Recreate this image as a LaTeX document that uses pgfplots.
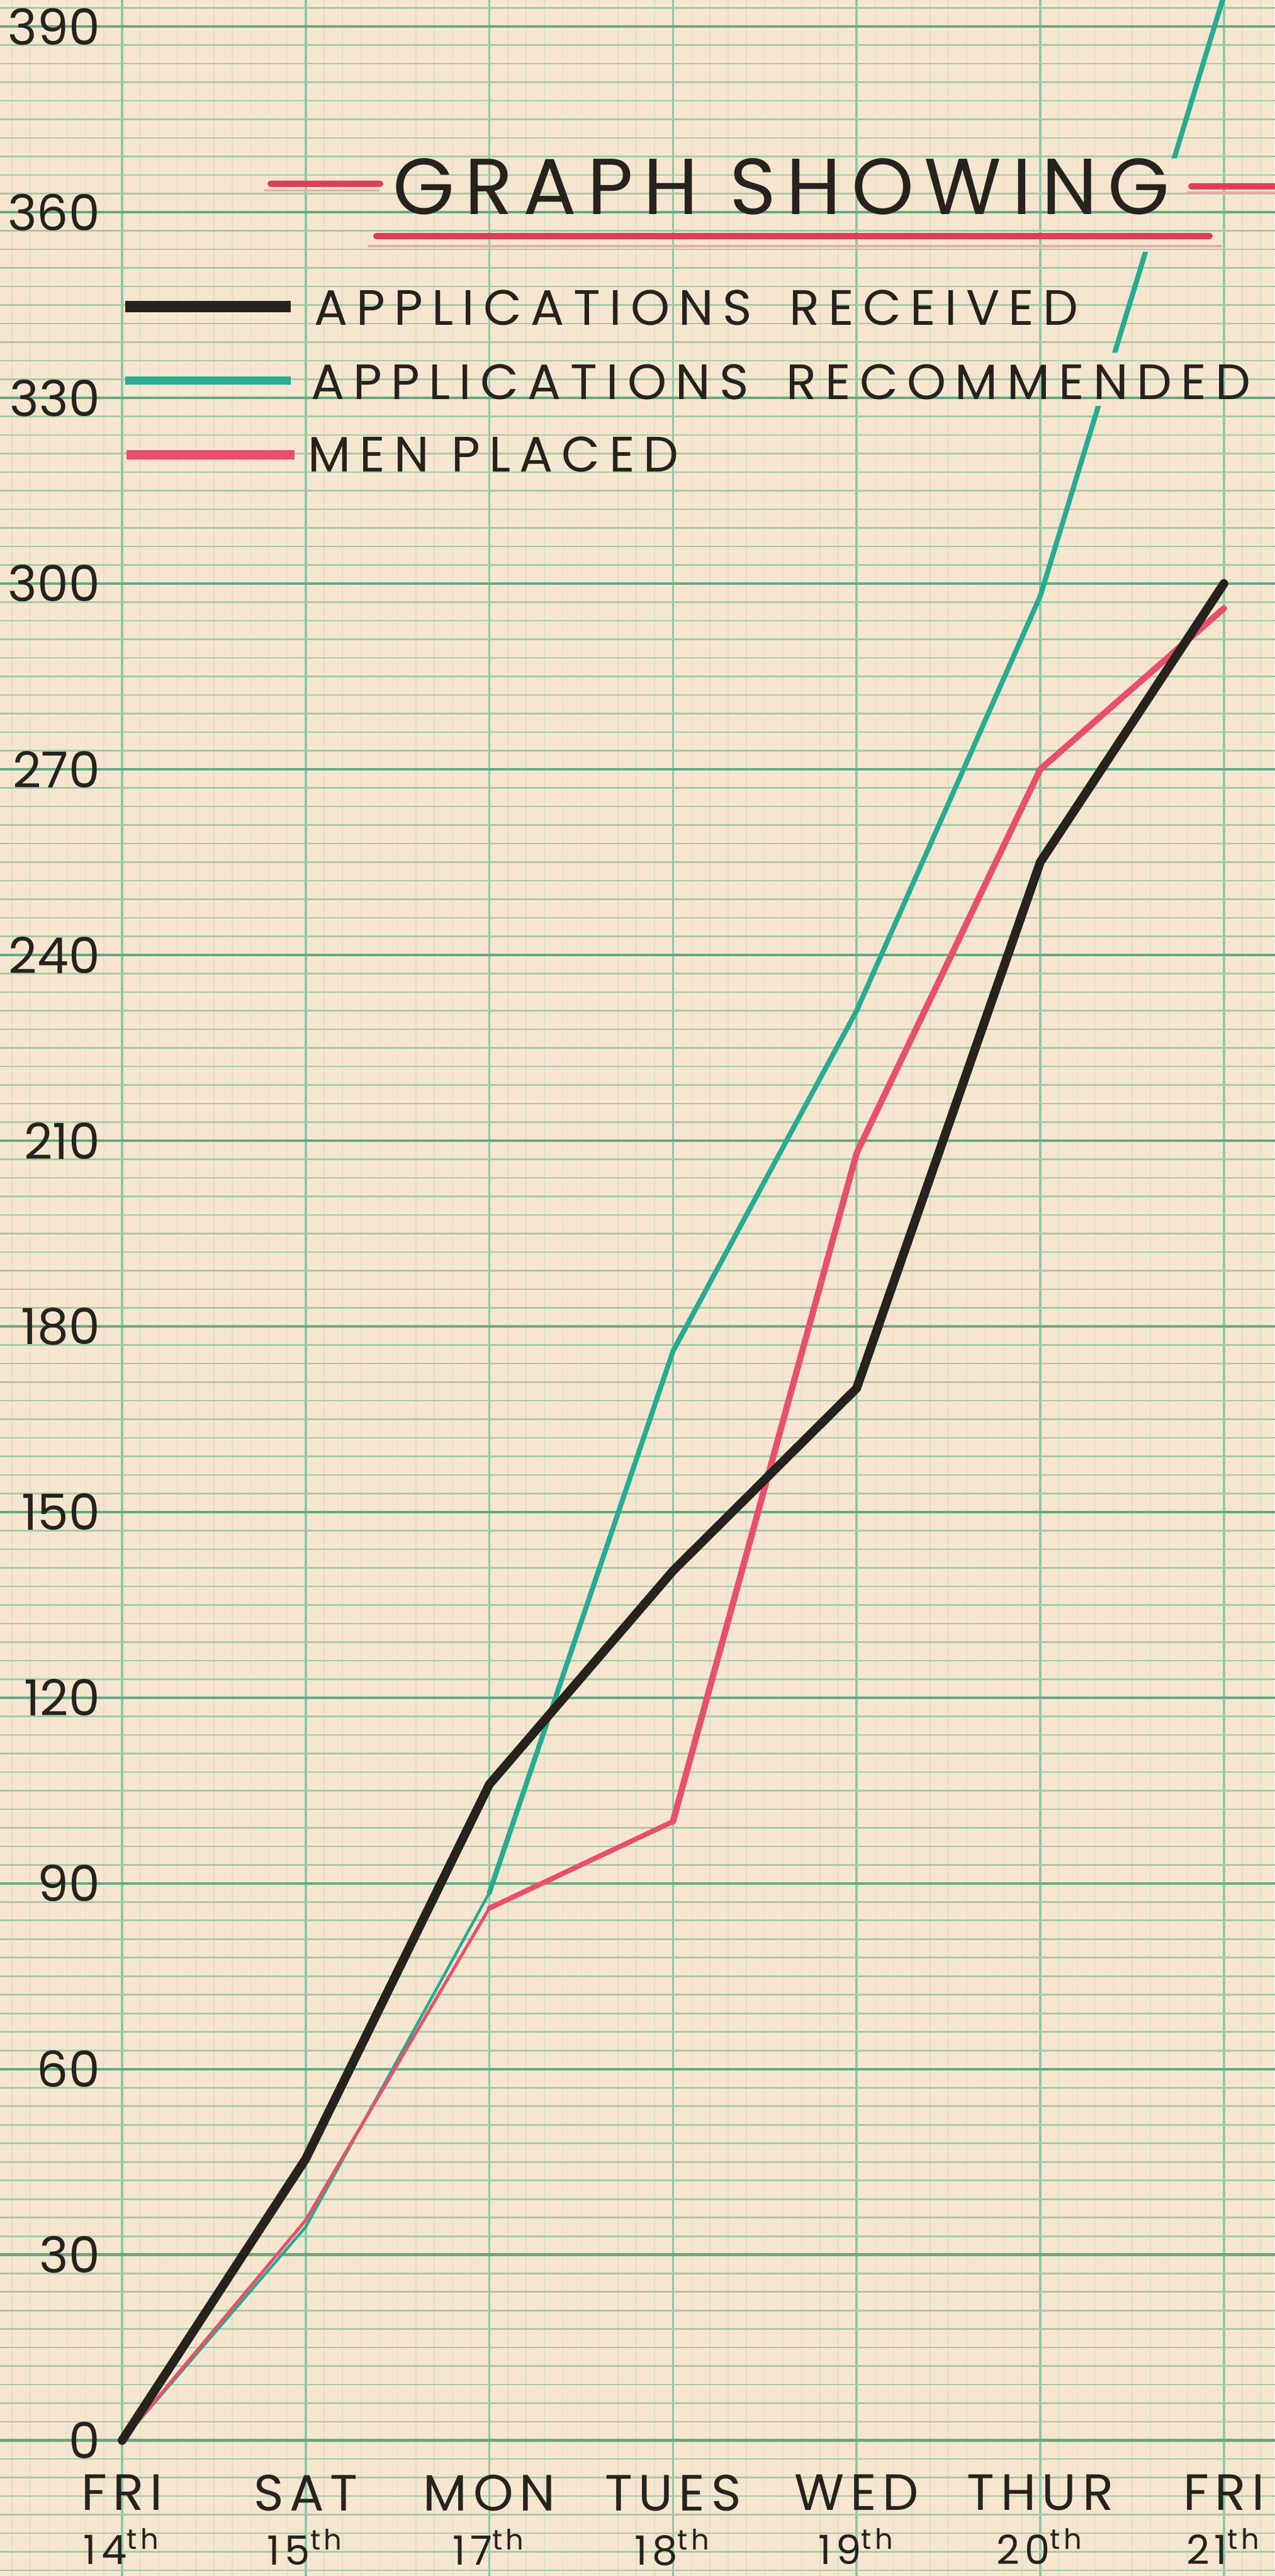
\documentclass[border=0pt]{standalone}
\usepackage{fontspec}
\setmainfont{Poppins}
\newfontfamily\decofont{Poppins}[LetterSpace=18]
\newfontfamily\dayfont{Poppins}[LetterSpace=12]
\newfontfamily\titlefont{Poppins}[LetterSpace=13]
\usepackage{pgfplots}
\pgfplotsset{compat=1.18}

% one pixel of the 2025x4092 reference
\newlength{\px}\setlength{\px}{0.15pt}
\newcommand{\datefont}{\fontsize{64\px}{86\px}\selectfont}

\definecolor{paper}{RGB}{246,230,208}
\definecolor{hmajor}{RGB}{100,170,132}
\definecolor{hminor}{RGB}{168,202,166}
\definecolor{vmajor}{RGB}{140,202,168}
\definecolor{vminor}{RGB}{222,223,198}
\definecolor{inkblack}{RGB}{38,34,30}
\definecolor{inkteal}{RGB}{38,172,146}
\definecolor{inkred}{RGB}{232,80,106}
\definecolor{crimson}{RGB}{222,62,86}
\definecolor{palepink}{RGB}{240,168,170}

\begin{document}
\begin{tikzpicture}
\begin{axis}[
    scale only axis,
    width=2025\px, height=4092\px,
    xmin=-0.665, xmax=6.275,
    ymin=-21.9, ymax=394.3,
    axis background/.style={fill=paper},
    axis line style={draw=none},
    major tick length=0pt, minor tick length=0pt,
    xtick={0,...,6},
    minor xtick={-0.6,-0.5,...,6.25},
    ytick={0,30,...,390},
    minor ytick={-21,-18,...,393},
    grid=both,
    major x grid style={draw=vmajor, line width=3.5\px},
    minor x grid style={draw=vminor, line width=1.5\px},
    major y grid style={draw=hmajor, line width=4.5\px},
    minor y grid style={draw=hminor, line width=2.6\px},
    yticklabels={0,30,60,90,120,150,180,210,240,270,300,330,360,390},
    yticklabel style={font=\fontsize{79\px}{82\px}\selectfont, text=inkblack,
        anchor=east, inner sep=0pt, xshift=160\px},
    xticklabels={{FRI\\{\datefont 14\textsuperscript{th}}},{SAT\\{\datefont 15\textsuperscript{th}}},
        {MON\\{\datefont 17\textsuperscript{th}}},{TUES\\{\datefont 18\textsuperscript{th}}},
        {WED\\{\datefont 19\textsuperscript{th}}},{THUR\\{\datefont 20\textsuperscript{th}}},
        {FRI\\{\datefont 21\textsuperscript{th}}}},
    xticklabel style={font=\dayfont\fontsize{81\px}{86\px}\selectfont, text=inkblack,
        align=center, anchor=north, inner sep=0pt, yshift=162\px},
    line join=round, line cap=round,
]
% applications recommended (broken where it runs through the title and key)
\begin{scope}
  \clip (axis cs:-1,-30) rectangle (axis cs:7,328.7)
        (axis cs:-1,337.3) rectangle (axis cs:7,353.6)
        (axis cs:-1,368.7) rectangle (axis cs:7,400);
  \addplot[inkteal, line width=4.5\px] coordinates {(0,0) (1,34.5) (2,88.5)};
  \addplot[inkteal, line width=8\px] coordinates {(2,88.5) (3,176) (4,231) (5,298) (6,395)};
\end{scope}
% men placed
\addplot[inkred, line width=5\px] coordinates {(0,0) (1,35.6) (2,86)};
\addplot[inkred, line width=8\px] coordinates {(2,86) (3,100)};
\addplot[inkred, line width=10\px] coordinates {(3,100) (4,208) (5,270) (6,296)};
% applications received
\addplot[inkblack, line width=14\px] coordinates {(0,0) (1,45.5) (2,106) (3,140.5) (4,170) (5,255) (6,300)};
\end{axis}

% title and key, placed in reference pixels from the top left corner
\begin{scope}[shift={(current axis.north west)}, x=0.15pt, y=-0.15pt, line cap=round]
  \draw[palepink, line width=3\px] (420,303) -- (602,303);
  \draw[crimson, line width=10\px] (430,292) -- (604,292);
  \draw[palepink, line width=3\px] (1886,306) -- (2040,306);
  \draw[crimson, line width=10\px] (1893,296) -- (2040,296);
  \node[anchor=base west, inner sep=0pt, text=inkblack,
        font=\titlefont\fontsize{126\px}{130\px}\selectfont] at (623,341) {GRAPH SHOWING};
  \draw[palepink, line width=4\px] (586,391) -- (1940,391);
  \draw[crimson, line width=10\px] (598,375) -- (1922,375);

  \draw[inkblack, line width=18\px, line cap=butt] (199,487) -- (462,487);
  \draw[inkteal, line width=13\px, line cap=butt] (199,605) -- (462,605);
  \draw[inkred, line width=15\px, line cap=butt] (201,723) -- (468,723);
  \begin{scope}[every node/.style={anchor=base west, inner sep=0pt, text=inkblack,
        font=\decofont\fontsize{79\px}{84\px}\selectfont}]
    \node at (498,517) {APPLICATIONS\hspace{60\px}RECEIVED};
    \node at (493,635) {APPLICATIONS\hspace{60\px}RECOMMENDED};
    \node at (488,750) {MEN PLACED};
  \end{scope}
\end{scope}
\pgfresetboundingbox
\path[use as bounding box] (current axis.south west) rectangle (current axis.north east);
\end{tikzpicture}
\end{document}
